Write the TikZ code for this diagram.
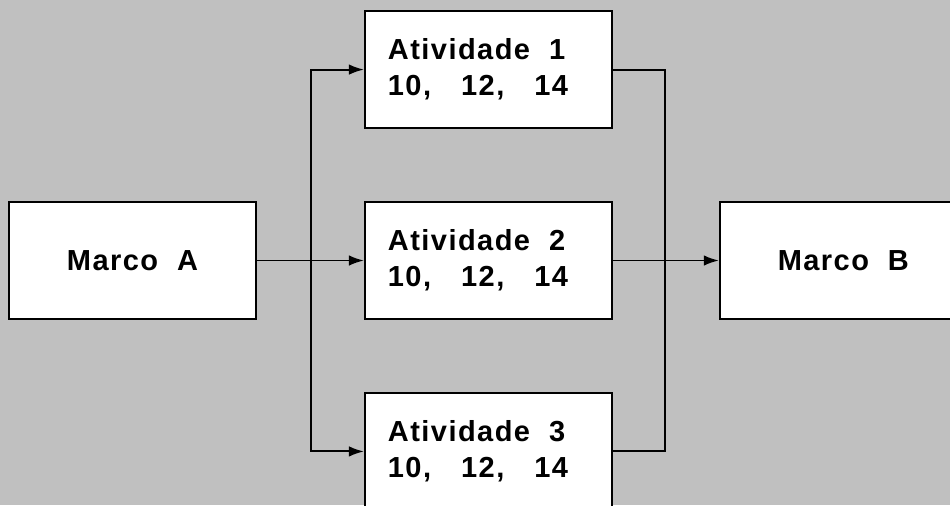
\documentclass[tikz,border=0pt]{standalone}
\usepackage{fontspec}
\setmainfont{Liberation Sans}[LetterSpace=5]
\usetikzlibrary{positioning,arrows.meta}
\definecolor{bggray}{RGB}{192,192,192}
\newcommand{\wgap}{\hspace{0.38cm}}
\newcommand{\ngap}{\hspace{0.6cm}}

\begin{document}
\begin{tikzpicture}[
    >={Latex[length=3mm,width=2.1mm]},
    font=\fontsize{16.5}{20.5}\selectfont\bfseries,
    node distance=1.44cm and 2.14cm,
    box/.style={rectangle, draw, fill=white, line width=1.1pt,
                minimum height=2.34cm, minimum width=4.94cm,
                inner sep=0pt},
    actbox/.style={box, align=left, text width=4.02cm,
                   inner xsep=0.46cm},
    flow/.style={->, line width=1.1pt},
    mergeline/.style={line width=1.1pt}
  ]

  % Canvas and background.
  \useasboundingbox (0,0) rectangle (19,-10.1);
  \clip (0,0) rectangle (19,-10.1);
  \fill[bggray] (0,0) rectangle (19,-10.1);

  % Milestones and activities.
  \node[box]                        (marcoA) at (2.65,-5.21) {Marco\wgap A};
  \node[actbox, right=of marcoA]    (ativ2)  {Atividade\wgap 2\\10,\ngap 12,\ngap 14};
  \node[actbox, above=of ativ2]     (ativ1)  {Atividade\wgap 1\\10,\ngap 12,\ngap 14};
  \node[actbox, below=of ativ2]     (ativ3)  {Atividade\wgap 3\\10,\ngap 12,\ngap 14};
  \node[box, right=2.12cm of ativ2] (marcoB) {Marco\wgap B};

  % Split and join points.
  \coordinate (split) at ([xshift=1.08cm]marcoA.east);
  \coordinate (merge) at ([xshift=1.04cm]ativ2.east);

  % Marco A -> activities.
  \draw[flow] (marcoA) -- (ativ2);
  \draw[flow] (split) |- (ativ1.west);
  \draw[flow] (split) |- (ativ3.west);

  % Activities -> Marco B.
  \draw[mergeline] (ativ1.east) -| (merge);
  \draw[mergeline] (ativ3.east) -| (merge);
  \draw[flow] (ativ2) -- (marcoB);

\end{tikzpicture}
\end{document}
